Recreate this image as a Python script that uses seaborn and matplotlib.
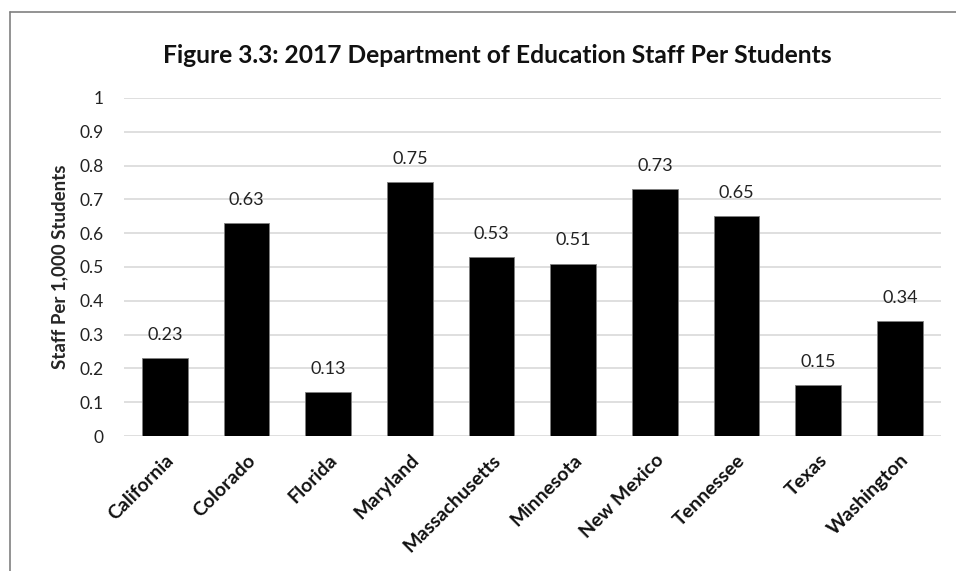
import matplotlib
matplotlib.use("Agg")
import matplotlib.pyplot as plt
import seaborn as sns
import pandas as pd
from matplotlib.lines import Line2D

states = ["California", "Colorado", "Florida", "Maryland", "Massachusetts",
          "Minnesota", "New Mexico", "Tennessee", "Texas", "Washington"]
values = [0.23, 0.63, 0.13, 0.75, 0.53, 0.51, 0.73, 0.65, 0.15, 0.34]
labels = ["0.23", "0.63", "0.13", "0.75", "0.53", "0.51", "0.73", "0.65", "0.15", "0.34"]
yticks = [0, 0.1, 0.2, 0.3, 0.4, 0.5, 0.6, 0.7, 0.8, 0.9, 1]
ytick_labels = ["0", "0.1", "0.2", "0.3", "0.4", "0.5", "0.6", "0.7", "0.8", "0.9", "1"]

sns.set_style("white")
plt.rcParams['font.family'] = ['Lato', 'DejaVu Sans']

df = pd.DataFrame({"State": states, "Value": values})

fig = plt.figure(figsize=(9.56, 5.71), dpi=100)
ax = fig.add_axes([0.1297, 0.2364, 0.8543, 0.592])

sns.barplot(data=df, x="State", y="Value", color="black", width=0.56,
            edgecolor="#7f7f7f", linewidth=0.6, saturation=1, ax=ax, zorder=3)

ax.set_ylim(0, 1)
ax.set_yticks(yticks)
ax.set_yticklabels(ytick_labels, fontsize=12.5, color="#222222")
ax.yaxis.grid(True, color="#d9d9d9", linewidth=1.2, zorder=0)
ax.xaxis.grid(False)
ax.set_axisbelow(True)
for s in ax.spines.values():
    s.set_visible(False)
ax.tick_params(axis="y", length=0, pad=14.5)
ax.tick_params(axis="x", length=0, pad=11)

ax.set_xticks(range(len(states)))
ax.set_xticklabels(states, rotation=45, ha="right", rotation_mode="anchor",
                   fontsize=14, fontweight="bold", color="#111111")
ax.set_xlabel("")
ax.set_ylabel("Staff Per 1,000 Students", fontsize=13.5, fontweight="bold", labelpad=4)
ax.yaxis.set_label_coords(-0.068, 0.5)

for i, (v, lab) in enumerate(zip(values, labels)):
    ax.annotate(lab, (i, v), xytext=(0, 11), textcoords="offset points",
                ha="center", va="bottom", fontsize=13, color="#222222")

fig.text(0.520, 0.902, "Figure 3.3: 2017 Department of Education Staff Per Students",
         ha="center", va="center", fontsize=17.7, fontweight="bold", color="#111111")

# outer border (left and top)
fig.add_artist(Line2D([10/956, 10/956], [0, 1 - 12/571], transform=fig.transFigure,
                      color="#808080", linewidth=1.2))
fig.add_artist(Line2D([10/956, 1], [1 - 12/571, 1 - 12/571], transform=fig.transFigure,
                      color="#808080", linewidth=1.2))

fig.savefig("out.png", dpi=100)
